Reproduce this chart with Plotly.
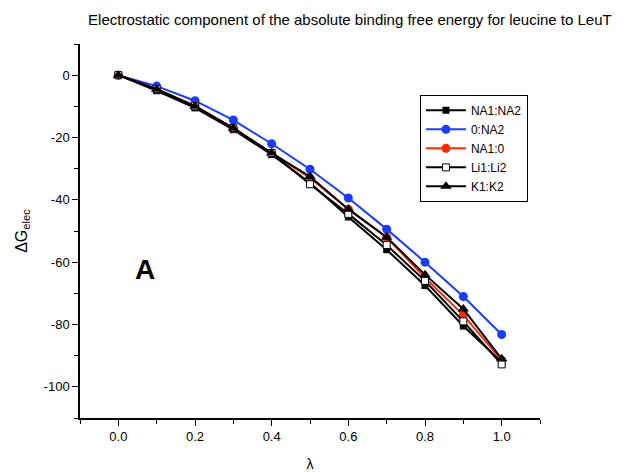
import plotly.graph_objects as go

lam = [0.0, 0.1, 0.2, 0.3, 0.4, 0.5, 0.6, 0.7, 0.8, 0.9, 1.0]
na1_na2 = [0, -5.0, -10.5, -17.5, -25.5, -34.5, -45.5, -56.0, -67.5, -80.5, -92.0]
zero_na2 = [0, -3.5, -8.2, -14.4, -22.0, -30.2, -39.4, -49.4, -60.0, -71.0, -83.2]
na1_zero = [0, -4.5, -9.8, -17.0, -25.0, -33.0, -43.0, -52.0, -65.0, -77.0, -91.5]
li1_li2 = [0, -4.5, -10.0, -17.0, -25.0, -35.0, -44.5, -54.5, -66.0, -79.0, -92.8]
k1_k2 = [0, -4.5, -10.0, -17.0, -25.0, -32.5, -43.0, -52.0, -64.0, -75.0, -91.0]

x_ticks = [0, 0.2, 0.4, 0.6, 0.8, 1.0]
x_labels = ["0.0", "0.2", "0.4", "0.6", "0.8", "1.0"]
y_ticks = [0, -20, -40, -60, -80, -100]
y_labels = ["0", "-20", "-40", "-60", "-80", "-100"]

series = [
    ("NA1:NA2", na1_na2, "#000000", dict(symbol="square", size=7, color="#000000")),
    ("0:NA2", zero_na2, "#1a3cff", dict(symbol="circle", size=9, color="#1a3cff")),
    ("NA1:0", na1_zero, "#ff2a00", dict(symbol="circle", size=9, color="#ff2a00")),
    ("Li1:Li2", li1_li2, "#000000", dict(symbol="square", size=7, color="#ffffff", line=dict(color="#000000", width=1))),
    ("K1:K2", k1_k2, "#000000", dict(symbol="triangle-up", size=10, color="#000000")),
]

fig = go.Figure()
for name, ys, col, mk in series:
    fig.add_trace(go.Scatter(x=lam, y=ys, name=name, mode="lines+markers",
                             line=dict(color=col, width=2), marker=mk))

axis_common = dict(showgrid=False, zeroline=False, showline=True, linecolor="black",
                   linewidth=1.5, ticks="outside", ticklen=6, tickcolor="black",
                   tickfont=dict(family="Arial, Liberation Sans", size=13, color="black"),
                   mirror=False, automargin=False)

fig.update_layout(
    width=616, height=464,
    margin=dict(l=72, r=84, t=36, b=54),
    paper_bgcolor="white", plot_bgcolor="white",
    font=dict(family="Arial, Liberation Sans", color="black"),
    title=dict(text="Electrostatic component of the absolute binding free energy for leucine to LeuT",
               x=0.555, xanchor="center", y=0.974, yanchor="middle",
               font=dict(size=15, color="black"), automargin=False),
    xaxis=dict(range=[-0.1, 1.1], tickvals=x_ticks, ticktext=x_labels,
               minor=dict(ticks="outside", ticklen=4, tickcolor="black", dtick=0.1, tick0=-0.1),
               title=dict(text="λ", font=dict(size=14), standoff=16),
               **axis_common),
    yaxis=dict(range=[-110, 10], tickvals=y_ticks, ticktext=y_labels,
               minor=dict(ticks="outside", ticklen=4, tickcolor="black", dtick=10, tick0=0),
               title=dict(text="ΔG<sub>elec</sub>", font=dict(size=16), standoff=12),
               **axis_common),
    legend=dict(x=0.739, y=0.864, xanchor="left", yanchor="top",
                bordercolor="black", borderwidth=1, bgcolor="white",
                font=dict(size=12, color="black"), tracegroupgap=0, itemwidth=40),
    showlegend=True,
)

fig.add_annotation(text="<b>A</b>", x=0.07, y=-62.5, xref="x", yref="y",
                   showarrow=False, font=dict(size=28, color="black", family="Arial, Liberation Sans"))

fig.write_html("out.html")
